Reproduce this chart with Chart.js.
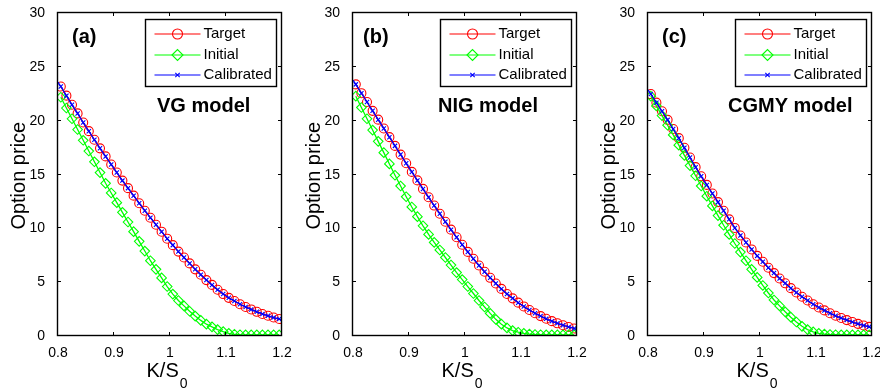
<!DOCTYPE html>
<html><head><meta charset="utf-8">
<script src="https://cdn.jsdelivr.net/npm/chart.js@4.4.1/dist/chart.umd.min.js"></script>
<style>
html,body{margin:0;padding:0;background:#fff;overflow:hidden;width:880px;height:392px;position:relative;}
.panel{position:absolute;top:0;width:300px;height:392px;}
</style></head><body>
<div class="panel" style="left:0px"><canvas id="ca" width="300" height="392"></canvas></div>
<div class="panel" style="left:295px"><canvas id="cb" width="300" height="392"></canvas></div>
<div class="panel" style="left:590px"><canvas id="cc" width="300" height="392"></canvas></div>
<script>
// ---- data ----
const strikes = [0.805,0.815,0.825,0.835,0.845,0.855,0.865,0.875,0.885,0.895,
  0.905,0.915,0.925,0.935,0.945,0.955,0.965,0.975,0.985,0.995,
  1.005,1.015,1.025,1.035,1.045,1.055,1.065,1.075,1.085,1.095,
  1.105,1.115,1.125,1.135,1.145,1.155,1.165,1.175,1.185,1.195];
const calStrikes = [0.8,0.805,0.815,0.825,0.835,0.845,0.855,0.865,0.875,0.885,0.895,
  0.905,0.915,0.925,0.935,0.945,0.955,0.965,0.975,0.985,0.995,
  1.005,1.015,1.025,1.035,1.045,1.055,1.065,1.075,1.085,1.095,
  1.105,1.115,1.125,1.135,1.145,1.155,1.165,1.175,1.185,1.195,1.2];

const vgTarget = [23.2,22.35,21.5,20.7,19.85,19.05,18.25,17.45,16.7,15.95,
  15.2,14.45,13.75,13.05,12.35,11.65,11.0,10.35,9.7,9.05,
  8.45,7.85,7.3,6.75,6.2,5.7,5.2,4.75,4.3,3.9,
  3.55,3.25,2.95,2.7,2.47,2.25,2.05,1.88,1.72,1.58];
const vgInitial = [22.2,21.2,20.2,19.2,18.2,17.2,16.2,15.2,14.2,13.3,
  12.4,11.5,10.6,9.7,8.8,7.9,7.0,6.2,5.4,4.6,
  3.9,3.3,2.8,2.3,1.85,1.45,1.1,0.85,0.6,0.4,
  0.25,0.16,0.12,0.1,0.1,0.1,0.1,0.1,0.1,0.1];
const vgCalibrated = [23.6,23.2,22.35,21.5,20.7,19.85,19.05,18.25,17.45,16.7,15.95,
  15.2,14.45,13.75,13.05,12.35,11.65,11.0,10.35,9.7,9.05,
  8.45,7.85,7.3,6.75,6.2,5.7,5.2,4.75,4.3,3.9,
  3.55,3.25,2.95,2.7,2.47,2.25,2.05,1.88,1.72,1.58,1.5];

const nigTarget = [23.4,22.58,21.76,20.94,20.12,19.3,18.49,17.68,16.87,16.06,
  15.26,14.47,13.68,12.9,12.13,11.37,10.62,9.89,9.18,8.49,
  7.82,7.18,6.56,5.97,5.41,4.88,4.38,3.91,3.5,3.1,
  2.75,2.42,2.12,1.85,1.6,1.38,1.18,1.0,0.84,0.7];
const nigInitial = [22.3,21.25,20.2,19.15,18.1,17.05,16.0,14.95,13.95,12.95,
  12.0,11.1,10.25,9.45,8.7,8.0,7.3,6.6,5.9,5.25,
  4.6,3.95,3.3,2.7,2.1,1.55,1.1,0.75,0.5,0.35,
  0.25,0.18,0.14,0.12,0.11,0.1,0.1,0.1,0.1,0.1];
const nigCalibrated = [23.8,23.4,22.58,21.76,20.94,20.12,19.3,18.49,17.68,16.87,16.06,
  15.26,14.47,13.68,12.9,12.13,11.37,10.62,9.89,9.18,8.49,
  7.82,7.18,6.56,5.97,5.41,4.88,4.38,3.91,3.5,3.1,
  2.75,2.42,2.12,1.85,1.6,1.38,1.18,1.0,0.84,0.7,0.62];

const cgmyTarget = [22.5,21.7,20.9,20.1,19.25,18.4,17.5,16.6,15.7,14.85,
  14.05,13.25,12.45,11.65,10.85,10.05,9.35,8.7,8.05,7.45,
  6.9,6.35,5.85,5.35,4.9,4.45,4.05,3.65,3.3,2.95,
  2.65,2.38,2.12,1.88,1.67,1.48,1.3,1.13,0.98,0.85];
const cgmyInitial = [22.3,21.4,20.5,19.6,18.7,17.75,16.8,15.85,14.9,13.95,
  13.0,12.1,11.2,10.3,9.45,8.6,7.8,7.0,6.2,5.45,
  4.7,4.0,3.35,2.8,2.25,1.75,1.3,0.9,0.6,0.38,
  0.25,0.18,0.14,0.12,0.11,0.1,0.1,0.1,0.1,0.1];
const cgmyCalibrated = [22.9,22.5,21.7,20.9,20.1,19.25,18.4,17.5,16.6,15.7,14.85,
  14.05,13.25,12.45,11.65,10.85,10.05,9.35,8.7,8.05,7.45,
  6.9,6.35,5.85,5.35,4.9,4.45,4.05,3.65,3.3,2.95,
  2.65,2.38,2.12,1.88,1.67,1.48,1.3,1.13,0.98,0.85,0.78];

const xTicks = [0.8, 0.9, 1.0, 1.1, 1.2];
const xTickLabels = ['0.8', '0.9', '1', '1.1', '1.2'];
const yTicks = [0, 5, 10, 15, 20, 25, 30];
const yTickLabels = ['0', '5', '10', '15', '20', '25', '30'];
const seriesNames = ['Target', 'Initial', 'Calibrated'];
const panelLabels = ['(a)', '(b)', '(c)'];
const modelNames = ['VG model', 'NIG model', 'CGMY model'];

// ---- drawing ----
const FONT = "'Liberation Sans', Arial, Helvetica, sans-serif";
Chart.defaults.font.family = FONT;
Chart.defaults.color = '#000';

const RED = '#ff0000', GREEN = '#00ff00', BLUE = '#0000ff';

function drawMarker(ctx, kind, x, y, color) {
  ctx.save();
  ctx.strokeStyle = color; ctx.lineWidth = 1.1;
  ctx.beginPath();
  if (kind === 'circle') {
    ctx.arc(x, y, 5, 0, Math.PI * 2);
  } else if (kind === 'diamond') {
    const r = 5.5;
    ctx.moveTo(x - r, y); ctx.lineTo(x, y - r); ctx.lineTo(x + r, y); ctx.lineTo(x, y + r); ctx.closePath();
  } else {
    const r = 2.2;
    ctx.moveTo(x - r, y - r); ctx.lineTo(x + r, y + r);
    ctx.moveTo(x - r, y + r); ctx.lineTo(x + r, y - r);
  }
  ctx.stroke();
  ctx.restore();
}

const matlabPlugin = {
  id: 'matlab',
  afterDraw(chart, args, opts) {
    const { ctx, chartArea: a, scales } = chart;
    ctx.save();
    const L = Math.round(a.left) - 0.5, R = Math.round(a.right) - 0.5;
    const T = Math.round(a.top) - 0.5, B = Math.round(a.bottom) - 0.5;
    ctx.strokeStyle = '#000';
    ctx.lineWidth = 1.4;
    ctx.strokeRect(L, T, R - L, B - T);
    ctx.beginPath();
    ctx.lineWidth = 1;
    const tl = 3.5;
    yTicks.forEach(v => {
      const p = Math.round(scales.y.getPixelForValue(v)) - 0.5;
      ctx.moveTo(L, p); ctx.lineTo(L + tl, p);
      ctx.moveTo(R, p); ctx.lineTo(R - tl, p);
    });
    xTicks.forEach(v => {
      const p = Math.round(scales.x.getPixelForValue(v)) - 0.5;
      ctx.moveTo(p, B); ctx.lineTo(p, B - tl);
      ctx.moveTo(p, T); ctx.lineTo(p, T + tl);
    });
    ctx.stroke();

    // panel label and model name
    ctx.fillStyle = '#000';
    ctx.textBaseline = 'middle';
    ctx.textAlign = 'left';
    ctx.font = 'bold 20px ' + FONT;
    ctx.fillText(opts.label, a.left + opts.labelDx, a.top + 24);
    ctx.fillText(opts.model, a.left + opts.modelDx, a.top + 93);

    // legend
    const bw = 131, bh = 67;
    const bx = Math.round(a.right - 6 - bw) + 0.5, by = Math.round(a.top + 6) + 0.5;
    ctx.fillStyle = '#fff';
    ctx.fillRect(bx, by, bw, bh);
    ctx.strokeStyle = '#000';
    ctx.lineWidth = 1.4;
    ctx.strokeRect(bx, by, bw, bh);
    const rows = [14.5, 35, 55];
    const cols = [RED, GREEN, BLUE];
    const kinds = ['circle', 'diamond', 'cross'];
    ctx.font = '15px ' + FONT;
    seriesNames.forEach((name, i) => {
      const ry = Math.round(by + rows[i]);
      ctx.strokeStyle = cols[i];
      ctx.lineWidth = 1.2;
      ctx.beginPath();
      ctx.moveTo(bx + 9, ry); ctx.lineTo(bx + 55, ry);
      ctx.stroke();
      drawMarker(ctx, kinds[i], bx + 32, ry, cols[i]);
      ctx.fillStyle = '#000';
      ctx.textBaseline = 'middle';
      ctx.fillText(name, bx + 58, ry);
    });

    // axis titles
    ctx.fillStyle = '#000';
    ctx.font = '20px ' + FONT;
    ctx.save();
    ctx.translate(a.left - 39, (a.top + a.bottom) / 2 + 1);
    ctx.rotate(-Math.PI / 2);
    ctx.textAlign = 'center';
    ctx.textBaseline = 'middle';
    ctx.fillText('Option price', 0, 0);
    ctx.restore();

    ctx.textAlign = 'left';
    ctx.textBaseline = 'alphabetic';
    ctx.font = '20px ' + FONT;
    const w1 = ctx.measureText('K/S').width;
    ctx.font = '14px ' + FONT;
    const w2 = ctx.measureText('0').width;
    const cx = (a.left + a.right) / 2 - 3;
    const x0 = cx - (w1 + w2 + 1) / 2;
    ctx.font = '20px ' + FONT;
    ctx.fillText('K/S', x0, 377);
    ctx.font = '14px ' + FONT;
    ctx.fillText('0', x0 + w1 + 1, 387.5);
    ctx.restore();
  }
};

function makeChart(id, target, initial, calibrated, idx, labelDx, modelDx) {
  const pts = (xs, ys) => xs.map((x, i) => ({ x: x, y: ys[i] }));
  const last = calStrikes.length - 1;
  new Chart(document.getElementById(id), {
    type: 'line',
    data: {
      datasets: [
        { label: seriesNames[0], data: pts(strikes, target), borderColor: RED, borderWidth: 1.3,
          pointStyle: 'circle', pointRadius: 4.5, pointBorderWidth: 1.1, pointBorderColor: RED,
          pointBackgroundColor: 'rgba(0,0,0,0)', tension: 0, order: 2 },
        { label: seriesNames[1], data: pts(strikes, initial), borderColor: GREEN, borderWidth: 1.3,
          pointStyle: 'rectRot', pointRadius: 4.8, pointBorderWidth: 1.1, pointBorderColor: GREEN,
          pointBackgroundColor: 'rgba(0,0,0,0)', tension: 0, order: 1 },
        { label: seriesNames[2], data: pts(calStrikes, calibrated), borderColor: BLUE, borderWidth: 1.3,
          pointStyle: 'crossRot', pointRadius: c => (c.dataIndex === 0 || c.dataIndex === last) ? 0 : 3,
          pointBorderWidth: 1.1, pointBorderColor: BLUE, tension: 0, order: 0 }
      ]
    },
    options: {
      responsive: false,
      animation: false,
      events: [],
      layout: { padding: { left: 0, top: 9, right: 18, bottom: 0 } },
      plugins: {
        legend: { display: false },
        tooltip: { enabled: false },
        matlab: { label: panelLabels[idx], model: modelNames[idx], labelDx: labelDx, modelDx: modelDx }
      },
      scales: {
        x: {
          type: 'linear', min: 0.8, max: 1.2,
          grid: { display: false }, border: { display: false },
          afterBuildTicks: s => { s.ticks = xTicks.map(v => ({ value: v })); },
          afterFit: s => { s.height = 56; },
          ticks: { autoSkip: false, maxRotation: 0, padding: 1, font: { size: 14 },
            callback: v => xTickLabels[xTicks.findIndex(t => Math.abs(t - v) < 1e-9)] }
        },
        y: {
          type: 'linear', min: 0, max: 30,
          grid: { display: false }, border: { display: false },
          afterBuildTicks: s => { s.ticks = yTicks.map(v => ({ value: v })); },
          afterFit: s => { s.width = 58; },
          ticks: { autoSkip: false, padding: 5, font: { size: 14 },
            callback: v => yTickLabels[yTicks.indexOf(v)] }
        }
      }
    },
    plugins: [matlabPlugin]
  });
}

makeChart('ca', vgTarget, vgInitial, vgCalibrated, 0, 14, 99);
makeChart('cb', nigTarget, nigInitial, nigCalibrated, 1, 10, 85);
makeChart('cc', cgmyTarget, cgmyInitial, cgmyCalibrated, 2, 14, 80);
</script>
</body></html>
